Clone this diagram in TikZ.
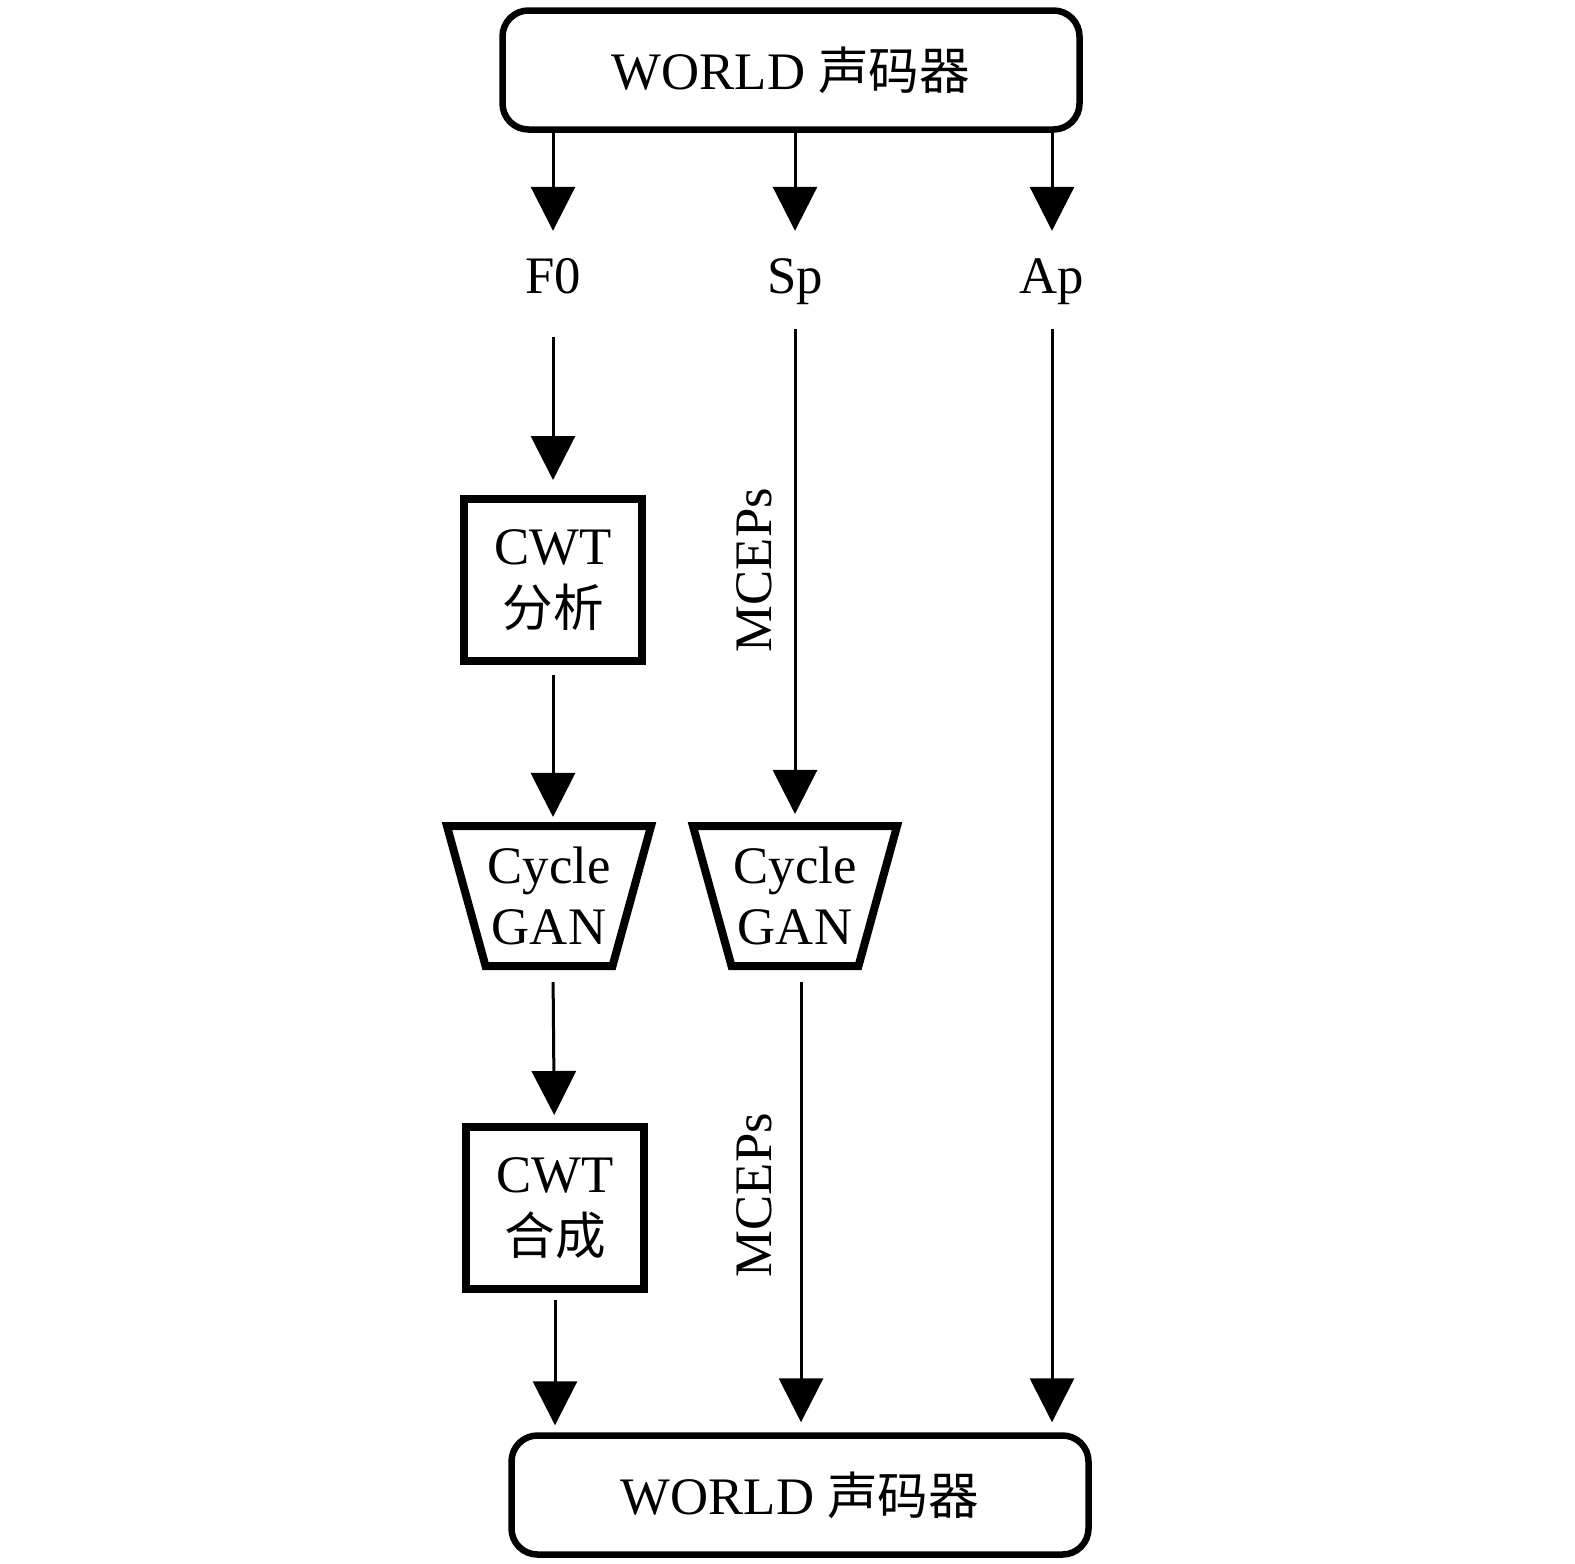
\documentclass[tikz,border=0pt]{standalone}
\usepackage{fontspec}
\setmainfont{Liberation Serif}
\newfontfamily\cjk{Noto Sans CJK SC}[Scale=0.96]
\usetikzlibrary{arrows.meta, shapes.geometric}

\begin{document}
\begin{tikzpicture}[
    x=0.1mm, y=-0.1mm,
    font=\fontsize{15}{17.6}\selectfont,
    vocoder/.style={rectangle, rounded corners=2.6mm, draw, line width=0.65mm, minimum width=57.7mm, minimum height=11.9mm},
    cwtbox/.style={rectangle, draw, line width=0.8mm, minimum width=17.8mm, minimum height=16.2mm, align=center},
    gan/.style={trapezium, draw, line width=0.8mm, shape border rotate=180, trapezium stretches=true, trapezium left angle=72.5, trapezium right angle=72.5, inner xsep=0.2mm, minimum height=14mm, align=center},
    feat/.style={inner sep=0pt, text height=6.2mm, text depth=3.5mm},
    flow/.style={-{Triangle[width=4.4mm, length=4.4mm]}, line width=0.3mm}
]
    \useasboundingbox (0,0) rectangle (1575,1563);

    \node[vocoder] (world1) at (791,70) {WORLD {\cjk 声码器}};

    % features out of the vocoder
    \node[feat] (f0) at (553,280) {F0};
    \node[feat] (sp) at (795,280) {Sp};
    \node[feat] (ap) at (1052,280) {Ap};

    \node[cwtbox] (cwtA) at (553,580) {CWT\\{\cjk 分析}};
    \node[gan] (ganA) at (549,896) {Cycle\\GAN};
    \node[gan] (ganB) at (795,896) {Cycle\\GAN};
    \node[cwtbox] (cwtB) at (555,1208) {CWT\\{\cjk 合成}};

    \node[vocoder] (world2) at (800,1495) {WORLD {\cjk 声码器}};

    \node[rotate=90] (mcepA) at (754,570) {MCEPs};
    \node[rotate=90] (mcepB) at (754,1195) {MCEPs};

    \draw[flow] (world1.south -| f0) -- (f0.north);
    \draw[flow] (world1.south -| sp) -- (sp.north);
    \draw[flow] (world1.south -| ap) -- (ap.north);

    % F0 branch
    \draw[flow, shorten <=0.8mm, shorten >=1.5mm] (f0) -- (cwtA);
    \draw[flow, shorten <=1mm, shorten >=0.5mm] (cwtA) -- (cwtA |- ganA.north);
    \draw[flow, shorten <=1.2mm, shorten >=0.8mm] (cwtA |- ganA.south) -- (cwtB);
    \draw[flow, shorten <=0.7mm, shorten >=0.7mm] (cwtB) -- (cwtB |- world2.north);

    % Sp and Ap
    \draw[flow, shorten >=0.8mm] (sp) -- (sp |- ganB.north);
    \draw[flow, shorten <=1.2mm, shorten >=1mm] ([xshift=0.6mm]ganB.south) -- ([xshift=0.6mm]ganB.south |- world2.north);
    \draw[flow, shorten >=1mm] (ap) -- (ap |- world2.north);
\end{tikzpicture}
\end{document}
